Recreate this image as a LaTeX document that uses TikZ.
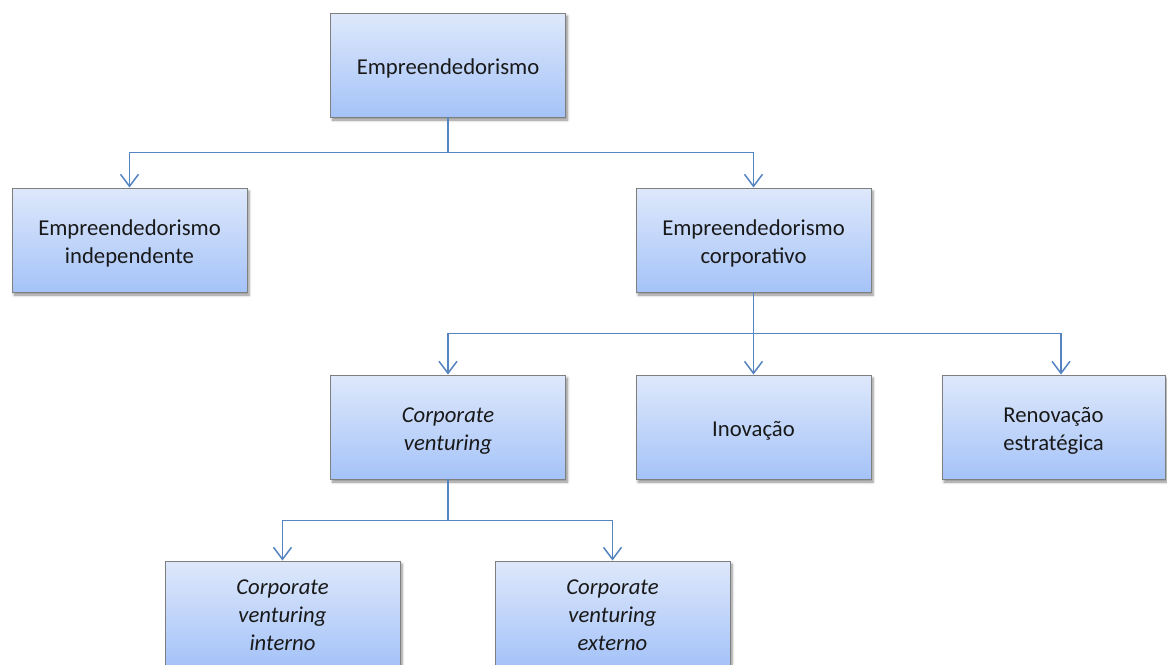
\documentclass[tikz,border=0pt]{standalone}
\usepackage{fontspec}
\setmainfont{Carlito}
\usetikzlibrary{arrows.meta,shadows.blur}
\definecolor{boxtop}{HTML}{DEE8FB}
\definecolor{boxbot}{HTML}{A5C3F8}
\definecolor{boxline}{HTML}{7F7F7F}
\definecolor{linkblue}{HTML}{5584C0}
% centred lines of a box label, with extra room on top so they sit a little low
\newcommand{\boxlines}[1]{\raisebox{0pt}[\dimexpr\height+8pt\relax][\depth]{\begin{tabular}{@{}c@{}}#1\end{tabular}}}
\begin{document}
\begin{tikzpicture}[x=1pt,y=-1pt,
  orgbox/.style={draw=boxline, line width=0.9pt, top color=boxtop, bottom color=boxbot,
    minimum width=235pt, minimum height=104pt, inner sep=0pt,
    font=\fontsize{22.7}{27.7}\selectfont, text=black!90,
    blur shadow={shadow xshift=2pt, shadow yshift=-3pt, shadow blur steps=6,
      shadow blur radius=2.5pt, shadow opacity=45}},
  link/.style={draw=linkblue, line width=1.9pt,
    -{Straight Barb[length=12pt,width=18pt,line width=1.5pt]}}]
\useasboundingbox (0,0) rectangle (1167,664);

% tree of boxes
\node[orgbox] (root) at (448,65) {\boxlines{Empreendedorismo}};
\node[orgbox] (indep) at (129.5,240) {\boxlines{Empreendedorismo\\independente}};
\node[orgbox] (corp) at (753.5,240) {\boxlines{Empreendedorismo\\corporativo}};
\node[orgbox] (cv) at (448,427) {\itshape\boxlines{Corporate\\venturing}};
\node[orgbox] (inov) at (753.5,427) {\boxlines{Inovação}};
\node[orgbox, minimum width=223pt] (renov) at (1053.5,427) {\boxlines{Renovação\\estratégica}};
\node[orgbox] (cvint) at (282.5,613) {\itshape\boxlines{Corporate\\venturing\\interno}};
\node[orgbox] (cvext) at (612.5,613) {\itshape\boxlines{Corporate\\venturing\\externo}};

% elbow connectors
\draw[link] (root.south) -- ++(0,35) -| (indep.north);
\draw[link] (root.south) -- ++(0,35) -| (corp.north);
\draw[link] (corp.south) -- ++(0,41) -| (cv.north);
\draw[link] (corp.south) -- (inov.north);
\draw[link] (corp.south) -- ++(0,41) -| ([xshift=7.5pt]renov.north);
\draw[link] (cv.south) -- ++(0,41) -| (cvint.north);
\draw[link] (cv.south) -- ++(0,41) -| (cvext.north);
\end{tikzpicture}
\end{document}
